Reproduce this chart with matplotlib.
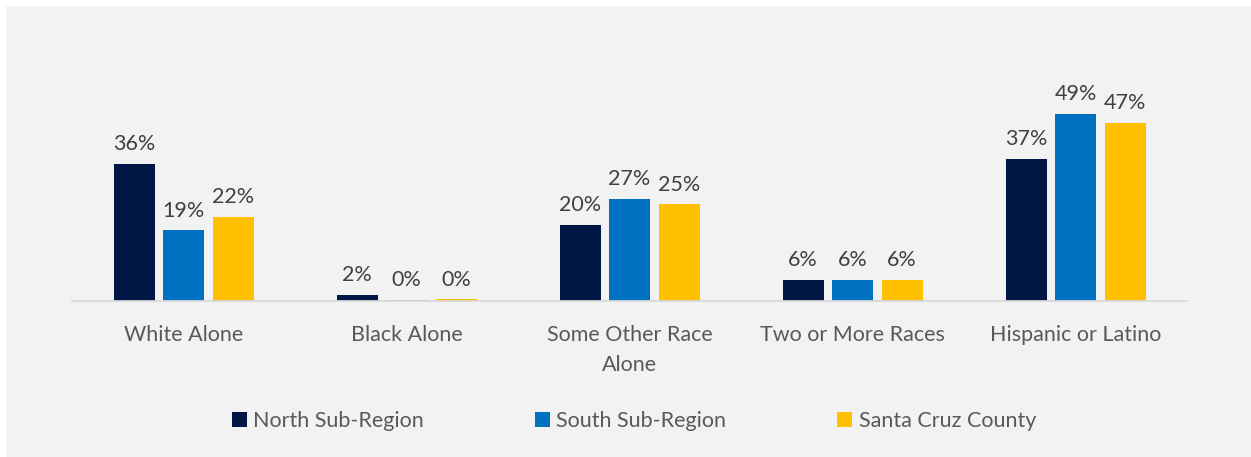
import numpy as np
import matplotlib
matplotlib.use('Agg')
import matplotlib.pyplot as plt
from matplotlib.patches import Rectangle

categories = ['White Alone', 'Black Alone', 'Some Other Race\nAlone',
              'Two or More Races', 'Hispanic or Latino']
series_names = ['North Sub-Region', 'South Sub-Region', 'Santa Cruz County']
north = [36.0, 1.6, 20.0, 5.6, 37.4]
south = [18.6, 0.3, 26.8, 5.6, 49.2]
county = [22.1, 0.4, 25.4, 5.6, 46.8]
colors = ['#001746', '#0070C0', '#FFC000']

plt.rcParams['font.family'] = ['Lato', 'DejaVu Sans']

W, H = 1251, 457
fig = plt.figure(figsize=(W / 100, H / 100), dpi=100)
fig.patch.set_facecolor('white')
fig.patches.append(Rectangle((6 / W, 0), 1 - 6 / W, 1 - 6 / H, transform=fig.transFigure,
                             facecolor='#F2F2F2', edgecolor='none', zorder=-10))

# baseline at y=301px, ~3.8px per percent
ax = fig.add_axes([72 / W, (H - 301) / H, 1115 / W, 261 / H])
ax.set_facecolor('none')
ax.set_ylim(0, 261 / 3.8)
ax.set_xlim(-0.5, len(categories) - 0.5)

x = np.arange(len(categories))
bw = 41 / 223
step = 49.5 / 223
for i, (vals, name, c) in enumerate(zip([north, south, county], series_names, colors)):
    bars = ax.bar(x + (i - 1) * step, vals, width=bw, color=c, label=name, zorder=2)
    for b, v in zip(bars, vals):
        ax.annotate(f"{v:.0f}%", (b.get_x() + b.get_width() / 2, b.get_height()),
                    xytext=(0, 7), textcoords='offset points', ha='center', va='bottom',
                    fontsize=15.5, color='#404040')

for s in ['top', 'right', 'left']:
    ax.spines[s].set_visible(False)
ax.spines['bottom'].set_color('#D9D9D9')
ax.spines['bottom'].set_linewidth(1.3)
ax.set_yticks([])
ax.set_xticks(x)
ax.set_xticklabels(categories, fontsize=15.5, color='#595959', linespacing=1.62)
ax.tick_params(axis='x', length=0, pad=17.5)

leg = fig.legend(loc='center', bbox_to_anchor=(634 / W, 1 - 421 / H), ncol=3, frameon=False,
                 fontsize=15.5, handlelength=0.7, handleheight=0.7, handletextpad=0.3,
                 columnspacing=5.15)
for t in leg.get_texts():
    t.set_color('#595959')

fig.savefig('out.png', dpi=100, facecolor=fig.get_facecolor())
